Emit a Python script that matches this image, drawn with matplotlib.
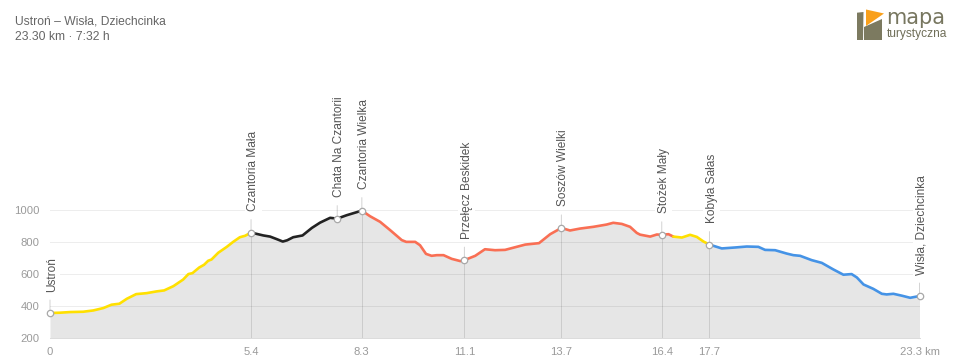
import matplotlib
matplotlib.use("Agg")
import matplotlib.pyplot as plt
from matplotlib.patches import Polygon

plt.rcParams['font.family'] = ['Liberation Sans', 'DejaVu Sans']

W, H = 960, 362

yellow1_km = [0, .27, .54, .89, 1.16, 1.43, 1.65, 1.86, 2.06, 2.31, 2.59, 2.86, 3.06, 3.31, 3.57, 3.71, 3.82, 4.0, 4.13, 4.24, 4.33, 4.51, 4.74, 4.91, 5.09, 5.23, 5.39]
yellow1_m = [354, 356, 360, 362, 370, 385, 406, 412, 443, 472, 478, 489, 495, 522, 563, 597, 603, 638, 655, 680, 688, 730, 767, 798, 827, 836, 856]
black_km = [5.39, 5.72, 5.9, 6.08, 6.24, 6.36, 6.52, 6.77, 7.02, 7.24, 7.51, 7.70, 7.95, 8.36]
black_m = [856, 838, 831, 815, 800, 808, 827, 838, 885, 918, 948, 943, 964, 993]
red_km = [8.36, 8.58, 8.85, 9.12, 9.43, 9.55, 9.79, 9.92, 10.08, 10.23, 10.37, 10.55, 10.77, 11.0, 11.11, 11.4, 11.66, 11.93, 12.2, 12.51, 12.74, 13.11, 13.41, 13.71, 13.94, 14.21, 14.57, 14.92, 15.1, 15.33, 15.55, 15.73, 15.82, 16.09, 16.27, 16.4, 16.58, 16.71]
red_m = [993, 958, 923, 871, 809, 798, 798, 777, 723, 711, 715, 715, 692, 678, 684, 711, 752, 746, 748, 767, 781, 790, 846, 885, 869, 881, 892, 906, 917, 910, 892, 854, 843, 831, 844, 842, 846, 831]
yellow2_km = [16.71, 16.94, 17.16, 17.34, 17.52, 17.68]
yellow2_m = [831, 825, 842, 829, 800, 781]
blue_km = [17.68, 18.01, 18.37, 18.68, 18.99, 19.17, 19.44, 19.75, 19.93, 20.11, 20.42, 20.69, 21.0, 21.27, 21.49, 21.63, 21.81, 22.07, 22.3, 22.43, 22.61, 22.84, 23.06, 23.31]
blue_m = [781, 757, 763, 769, 767, 748, 746, 725, 715, 711, 684, 667, 626, 593, 597, 576, 532, 505, 474, 470, 474, 462, 449, 460]

place_names = ['Ustroń', 'Czantoria Mała', 'Chata Na Czantorii', 'Czantoria Wielka', 'Przełęcz Beskidek',
               'Soszów Wielki', 'Stożek Mały', 'Kobyła Sałas', 'Wisła, Dziechcinka']
place_km = [0, 5.39, 7.70, 8.36, 11.11, 13.71, 16.4, 17.68, 23.31]
place_m = [354, 856, 943, 993, 684, 885, 842, 781, 460]

xtick_km = [0, 5.39, 8.34, 11.11, 13.71, 16.4, 17.68, 23.31]
xtick_labels = ['0', '5.4', '8.3', '11.1', '13.7', '16.4', '17.7', '23.3 km']
ytick_m = [200, 400, 600, 800, 1000]
drop_km = [5.39, 8.36, 11.11, 13.71, 16.4, 17.68]
drop_m = [856, 993, 684, 885, 842, 781]

segments = [(yellow1_km, yellow1_m, '#ffe000'), (black_km, black_m, '#222222'), (red_km, red_m, '#f96f54'),
            (yellow2_km, yellow2_m, '#ffe000'), (blue_km, blue_m, '#4593e6')]

fig = plt.figure(figsize=(W / 100, H / 100), dpi=100, facecolor='white')
left, right, top, bottom = 50, 919.5, 209.5, 337.7
ax = fig.add_axes([left / W, 1 - bottom / H, (right - left) / W, (bottom - top) / H])
ax.set_xlim(0, 23.31)
ax.set_ylim(200, 1000)
ax.patch.set_alpha(0)
for s in ax.spines.values():
    s.set_visible(False)

all_km = yellow1_km + black_km + red_km + yellow2_km + blue_km
all_m = yellow1_m + black_m + red_m + yellow2_m + blue_m
ax.fill_between(all_km, all_m, 200, color='#e6e6e6', lw=0, zorder=1)
ax.set_yticks(ytick_m)
ax.set_axisbelow(False)
ax.grid(axis='y', color='#000000', alpha=0.07, lw=.72)
ax.set_xticks(xtick_km, xtick_labels)
ax.tick_params(axis='both', length=0, labelsize=8.1, labelcolor='#9a9a9a')
ax.tick_params(axis='y', pad=7.5)
ax.tick_params(axis='x', pad=6.5)

ax.vlines(drop_km, 200, drop_m, color='#cccccc', lw=.72, zorder=2)
for km, m, c in segments:
    ax.plot(km, m, color=c, lw=1.9, solid_capstyle='round', solid_joinstyle='round', zorder=3, clip_on=False)

for name, km, m in zip(place_names, place_km, place_m):
    ax.annotate('', xy=(km, m), xytext=(0, 13 * .72), textcoords='offset points', annotation_clip=False,
                arrowprops=dict(arrowstyle='-', color='#d4d4d4', lw=.72, shrinkA=0, shrinkB=0), zorder=2)
    ax.annotate(name, xy=(km, m), xytext=(1.5, 21.5 * .72), textcoords='offset points', rotation=90,
                ha='center', va='bottom', fontsize=8.6, color='#555555', annotation_clip=False, zorder=4,
                bbox=dict(boxstyle='square,pad=0.2', fc='white', ec='none'))
ax.plot(place_km, place_m, 'o', ms=4.6, mfc='white', mec='#a8a8a8', mew=.9, zorder=5, clip_on=False)

ax.axhline(200, color='#dcdcdc', lw=.72, zorder=2, clip_on=False)

def px(x, y):
    return (x / W, 1 - y / H)

fig.text(*px(15, 24), 'Ustroń – Wisła, Dziechcinka', fontsize=8.7, color='#666666', va='baseline')
fig.text(*px(15, 40), '23.30 km · 7:32 h', fontsize=8.7, color='#666666', va='baseline')

for pts, col in [
    ([(857, 12.7), (863.5, 12), (863, 40), (857, 40)], '#7c7a60'),
    ([(866, 9.5), (884, 13.5), (866, 26)], '#f9a01b'),
    ([(864, 27), (882, 19), (882, 40), (864, 40)], '#7c7a60'),
]:
    fig.add_artist(Polygon([px(*p) for p in pts], closed=True, fc=col, ec='none', transform=fig.transFigure))
fig.text(*px(886, 23.5), 'mapa', fontsize=15, color='#77765f', va='baseline', family='DejaVu Sans')
fig.text(*px(887, 37), 'turystyczna', fontsize=8.6, color='#6f6e58', va='baseline')

fig.savefig('out.png', dpi=100, facecolor='white')
